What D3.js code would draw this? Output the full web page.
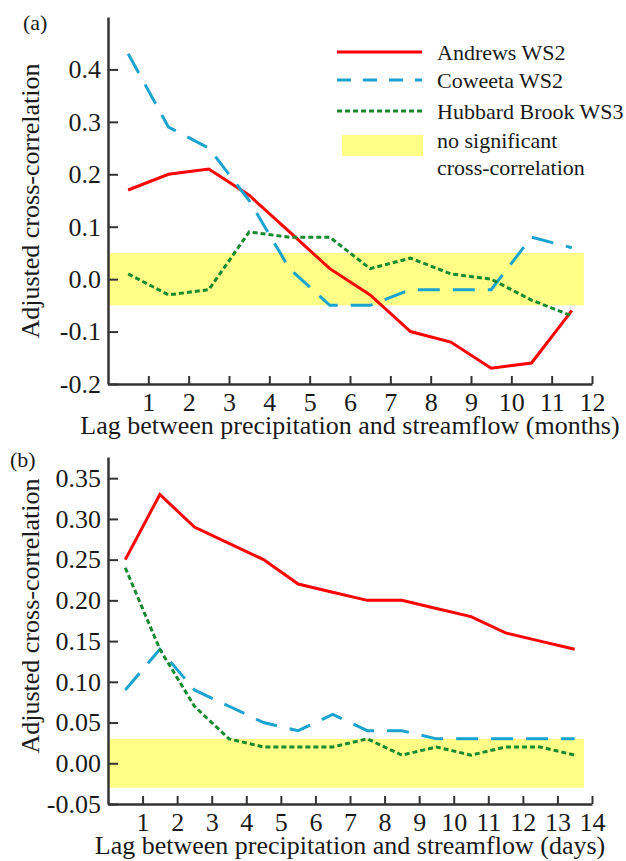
<!DOCTYPE html>
<html>
<head>
<meta charset="utf-8">
<title>Adjusted cross-correlation</title>
<script src="https://d3js.org/d3.v7.min.js"></script>
<style>
body { margin: 0; background: #fff; }
.axis path, .axis line { stroke: #333; stroke-width: 2px; }
</style>
</head>
<body>
<script>
// ---- data ----
var lagsA = [0.5, 1.5, 2.5, 3.5, 4.5, 5.5, 6.5, 7.5, 8.5, 9.5, 10.5, 11.5];
var andrewsA = [0.17, 0.20, 0.21, 0.16, 0.09, 0.02, -0.03, -0.10, -0.12, -0.17, -0.16, -0.06];
var coweetaA = [0.43, 0.29, 0.25, 0.15, 0.02, -0.05, -0.05, -0.02, -0.02, -0.02, 0.08, 0.06];
var hubbardA = [0.01, -0.03, -0.02, 0.09, 0.08, 0.08, 0.02, 0.04, 0.01, 0.00, -0.04, -0.07];
var xTicksA = [1, 2, 3, 4, 5, 6, 7, 8, 9, 10, 11, 12];
var yTicksA = [-0.2, -0.1, 0.0, 0.1, 0.2, 0.3, 0.4];
var bandA = [-0.05, 0.05];

var lagsB = [0.5, 1.5, 2.5, 3.5, 4.5, 5.5, 6.5, 7.5, 8.5, 9.5, 10.5, 11.5, 12.5, 13.5];
var andrewsB = [0.25, 0.33, 0.29, 0.27, 0.25, 0.22, 0.21, 0.20, 0.20, 0.19, 0.18, 0.16, 0.15, 0.14];
var coweetaB = [0.09, 0.14, 0.09, 0.07, 0.05, 0.04, 0.06, 0.04, 0.04, 0.03, 0.03, 0.03, 0.03, 0.03];
var hubbardB = [0.24, 0.14, 0.07, 0.03, 0.02, 0.02, 0.02, 0.03, 0.01, 0.02, 0.01, 0.02, 0.02, 0.01];
var xTicksB = [1, 2, 3, 4, 5, 6, 7, 8, 9, 10, 11, 12, 13, 14];
var yTicksB = [-0.05, 0.00, 0.05, 0.10, 0.15, 0.20, 0.25, 0.30, 0.35];
var bandB = [-0.03, 0.03];

var seriesNames = ["Andrews WS2", "Coweeta WS2", "Hubbard Brook WS3"];
var bandLabel = ["no significant", "cross-correlation"];

var colors = ["#ff0000", "#1ba3cf", "#17892e"];
var dashes = [null, "22,13", "5,3"];
var legendDashes = [null, "14,12", "5,3"];
var serif = "'Liberation Serif', 'Times New Roman', serif";

var width = 626, height = 861;
var svg = d3.select("body").append("svg")
    .attr("width", width)
    .attr("height", height)
    .attr("font-family", serif);

function drawPanel(p) {
  var x = d3.scaleLinear().domain([0, p.xTicks[p.xTicks.length - 1]]).range([108, 592]);
  var y = d3.scaleLinear().domain(p.yDomain).range([p.bottom, p.top]);
  var g = svg.append("g");

  // yellow band = no significant cross-correlation
  g.append("rect")
      .attr("x", x(0))
      .attr("width", x(p.bandEnd) - x(0))
      .attr("y", y(p.band[1]))
      .attr("height", y(p.band[0]) - y(p.band[1]))
      .style("fill", "#ffff88");

  var line = d3.line()
      .x(function(d) { return x(d[0]); })
      .y(function(d) { return y(d[1]); });
  p.series.forEach(function(s, i) {
    g.append("path")
        .datum(p.lags.map(function(l, j) { return [l, s[j]]; }))
        .attr("d", line)
        .style("fill", "none")
        .style("stroke", colors[i])
        .style("stroke-width", 3)
        .style("stroke-dasharray", dashes[i]);
  });

  // axes, ticks pointing inward
  var yAx = g.append("g")
      .attr("class", "axis")
      .attr("transform", "translate(108,0)")
      .call(d3.axisLeft(y).tickValues(p.yTicks).tickFormat(p.fmt)
        .tickSizeInner(-10).tickSizeOuter(0).tickPadding(7));
  var xAx = g.append("g")
      .attr("class", "axis")
      .attr("transform", "translate(0," + p.bottom + ")")
      .call(d3.axisBottom(x).tickValues(p.xTicks)
        .tickSizeInner(-8).tickSizeOuter(0).tickPadding(9));
  [yAx, xAx].forEach(function(a) {
    a.attr("font-family", serif).attr("font-size", 26);
    a.selectAll("text").style("font-family", serif).style("font-size", "26px").style("fill", "#1a1a1a");
    a.select(".domain").style("stroke-width", 2.5);
  });

  g.append("text")
      .attr("x", 350).attr("y", p.bottom + 50)
      .attr("text-anchor", "middle")
      .style("font-family", serif)
      .style("font-size", "26px")
      .style("fill", "#1a1a1a")
      .text(p.xLabel);
  g.append("text")
      .attr("transform", "translate(39," + p.yLabelY + ") rotate(-90)")
      .attr("text-anchor", "middle")
      .style("font-family", serif)
      .style("font-size", "26px")
      .style("fill", "#1a1a1a")
      .text("Adjusted cross-correlation");
  g.append("text")
      .attr("x", p.tagX).attr("y", p.tagY)
      .style("font-family", serif)
      .style("font-size", "22px")
      .style("fill", "#1a1a1a")
      .text(p.tag);
}

drawPanel({
  lags: lagsA, series: [andrewsA, coweetaA, hubbardA],
  xTicks: xTicksA, yTicks: yTicksA, yDomain: [-0.2, 0.5],
  top: 17, bottom: 384, band: bandA, bandEnd: 11.8,
  fmt: function(d) { return d.toFixed(1); },
  xLabel: "Lag between precipitation and streamflow (months)",
  yLabelY: 201, tag: "(a)", tagX: 23, tagY: 30
});

drawPanel({
  lags: lagsB, series: [andrewsB, coweetaB, hubbardB],
  xTicks: xTicksB, yTicks: yTicksB, yDomain: [-0.05, 0.376],
  top: 457, bottom: 804, band: bandB, bandEnd: 13.77,
  fmt: function(d) { return d.toFixed(2); },
  xLabel: "Lag between precipitation and streamflow (days)",
  yLabelY: 616, tag: "(b)", tagX: 10, tagY: 467
});

// legend (panel a)
var legend = svg.append("g").attr("transform", "translate(337,0)");
var legendY = [52, 80, 111];
seriesNames.forEach(function(name, i) {
  legend.append("line")
      .attr("x1", 0).attr("x2", 85)
      .attr("y1", legendY[i]).attr("y2", legendY[i])
      .style("stroke", colors[i])
      .style("stroke-width", 3)
      .style("stroke-dasharray", legendDashes[i]);
  legend.append("text")
      .attr("x", 100).attr("y", legendY[i] + 8)
      .style("font-family", serif)
      .style("font-size", "22px")
      .style("fill", "#1a1a1a")
      .text(name);
});
legend.append("rect")
    .attr("x", 5).attr("y", 135)
    .attr("width", 81).attr("height", 21)
    .style("fill", "#ffff88");
bandLabel.forEach(function(t, i) {
  legend.append("text")
      .attr("x", 100).attr("y", 148 + i * 27)
      .style("font-family", serif)
      .style("font-size", "22px")
      .style("fill", "#1a1a1a")
      .text(t);
});
</script>
</body>
</html>
